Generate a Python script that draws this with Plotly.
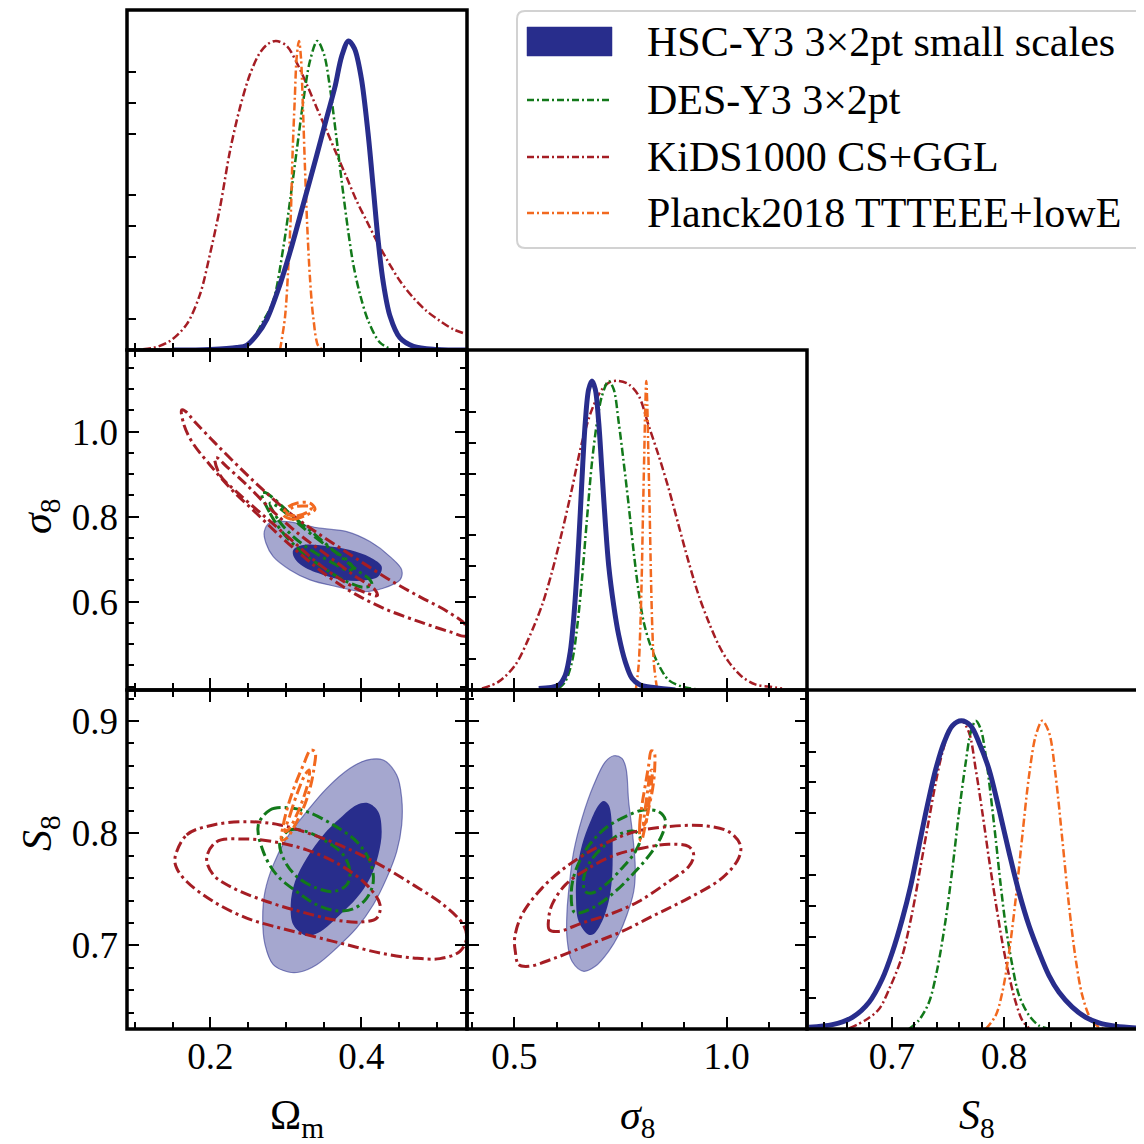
import plotly.graph_objects as go

# ---------------- 1D marginal posteriors (value, normalised density) ----------------
HSC_OM_1D = [(0.15,0.0),(0.20,0.002),(0.235,0.008),(0.248,0.015),(0.262,0.05),(0.275,0.10),(0.292,0.21),(0.306,0.32),(0.323,0.47),(0.341,0.63),(0.354,0.75),(0.365,0.85),(0.374,0.95),(0.383,1.0),(0.391,0.975),(0.400,0.88),(0.409,0.70),(0.416,0.52),(0.4225,0.35),(0.429,0.22),(0.438,0.11),(0.451,0.04),(0.469,0.012),(0.50,0.002),(0.54,0.0)]
DES_OM_1D = [(0.23,0.0),(0.248,0.01),(0.2702,0.094),(0.2834,0.159),(0.2967,0.331),(0.3056,0.482),(0.3144,0.644),(0.3232,0.806),(0.332,0.935),(0.3417,1.0),(0.3506,0.957),(0.3585,0.849),(0.3665,0.698),(0.374,0.547),(0.382,0.396),(0.3894,0.277),(0.3983,0.18),(0.4093,0.094),(0.4248,0.024),(0.4424,0.0)]
KIDS_OM_1D = [(0.0897,0.0),(0.1245,0.007),(0.1466,0.029),(0.1687,0.083),(0.1864,0.18),(0.1996,0.31),(0.2128,0.46),(0.2261,0.644),(0.2393,0.784),(0.2526,0.892),(0.2658,0.962),(0.2768,0.991),(0.287,1.0),(0.3012,0.984),(0.3144,0.93),(0.3277,0.86),(0.3409,0.784),(0.3542,0.709),(0.3674,0.633),(0.3807,0.558),(0.3939,0.482),(0.4072,0.417),(0.4204,0.353),(0.4336,0.294),(0.4513,0.223),(0.4689,0.169),(0.4866,0.126),(0.5042,0.094),(0.5219,0.067),(0.5396,0.051)]
PLANCK_OM_1D = [(0.2923,0.0),(0.2989,0.105),(0.3033,0.266),(0.3065,0.428),(0.3091,0.644),(0.3118,0.806),(0.3144,0.946),(0.3175,1.0),(0.3201,0.946),(0.3224,0.806),(0.3254,0.59),(0.3285,0.396),(0.332,0.234),(0.3364,0.105),(0.343,0.013),(0.3497,0.0)]

HSC_SIG8_1D = [(0.5574,0.005),(0.6045,0.016),(0.62,0.048),(0.6318,0.124),(0.6398,0.231),(0.6476,0.382),(0.6554,0.575),(0.661,0.726),(0.6671,0.866),(0.6751,0.973),(0.6829,1.0),(0.6907,0.973),(0.6987,0.866),(0.7065,0.704),(0.7142,0.543),(0.7222,0.403),(0.734,0.274),(0.7458,0.177),(0.7613,0.091),(0.7771,0.038),(0.7966,0.016),(0.8319,0.0075),(0.879,0.0)]
DES_SIG8_1D = [(0.6045,0.005),(0.62,0.027),(0.6358,0.091),(0.6476,0.199),(0.6594,0.36),(0.6711,0.554),(0.6829,0.737),(0.6947,0.866),(0.7065,0.952),(0.7222,1.0),(0.734,0.973),(0.7458,0.866),(0.7575,0.737),(0.7693,0.597),(0.7811,0.446),(0.7928,0.317),(0.8046,0.22),(0.8202,0.145),(0.8399,0.081),(0.8635,0.032),(0.8948,0.011),(0.9261,0.003)]
KIDS_SIG8_1D = [(0.424,0.005),(0.4633,0.027),(0.5024,0.081),(0.5339,0.167),(0.5652,0.274),(0.5887,0.382),(0.6123,0.511),(0.6358,0.651),(0.6594,0.801),(0.6829,0.908),(0.7065,0.973),(0.726,0.997),(0.7458,1.0),(0.7693,0.989),(0.7928,0.952),(0.8164,0.855),(0.8399,0.758),(0.8635,0.651),(0.887,0.532),(0.9105,0.414),(0.9341,0.306),(0.9576,0.22),(0.9812,0.145),(1.0047,0.091),(1.036,0.043),(1.0673,0.018),(1.0989,0.011),(1.1302,0.005)]
PLANCK_SIG8_1D = [(0.7865,0.005),(0.7928,0.081),(0.7966,0.199),(0.7999,0.36),(0.803,0.575),(0.806,0.768),(0.8084,0.919),(0.8107,1.0),(0.8131,0.919),(0.8155,0.768),(0.8187,0.575),(0.8218,0.36),(0.8249,0.199),(0.8289,0.081),(0.8359,0.005)]

HSC_S8_1D = [(0.6264,0.006),(0.6471,0.014),(0.6649,0.038),(0.6798,0.087),(0.6916,0.163),(0.7005,0.249),(0.7094,0.357),(0.7169,0.465),(0.7243,0.595),(0.7317,0.725),(0.7392,0.843),(0.7466,0.93),(0.754,0.984),(0.762,1.0),(0.7703,0.984),(0.7777,0.93),(0.7866,0.843),(0.7955,0.714),(0.8045,0.573),(0.8134,0.443),(0.8223,0.335),(0.8312,0.249),(0.8401,0.173),(0.849,0.119),(0.8608,0.071),(0.8727,0.038),(0.8846,0.02),(0.8995,0.009),(0.9232,0.002)]
DES_S8_1D = [(0.7154,0.0),(0.7243,0.029),(0.7332,0.087),(0.7406,0.195),(0.7481,0.357),(0.754,0.519),(0.7599,0.703),(0.7659,0.865),(0.7703,0.962),(0.7748,1.0),(0.7793,0.973),(0.7837,0.887),(0.7882,0.757),(0.7926,0.616),(0.7971,0.465),(0.8015,0.335),(0.8074,0.206),(0.8134,0.109),(0.8223,0.044),(0.8312,0.011),(0.8401,0.0)]
KIDS_S8_1D = [(0.662,0.002),(0.6768,0.029),(0.6887,0.065),(0.6991,0.141),(0.7094,0.238),(0.7183,0.379),(0.7258,0.53),(0.7332,0.681),(0.7392,0.8),(0.7451,0.897),(0.7525,0.973),(0.762,1.0),(0.7688,0.962),(0.7748,0.843),(0.7807,0.703),(0.7866,0.552),(0.7926,0.411),(0.7985,0.281),(0.8045,0.173),(0.8104,0.087),(0.8163,0.028),(0.8223,0.002)]
PLANCK_S8_1D = [(0.7837,0.0),(0.7926,0.044),(0.7985,0.119),(0.8045,0.249),(0.8104,0.422),(0.8163,0.627),(0.8223,0.822),(0.8282,0.951),(0.8341,1.0),(0.8401,0.962),(0.846,0.822),(0.8519,0.616),(0.8579,0.4),(0.8638,0.228),(0.8697,0.109),(0.8772,0.033),(0.8846,0.006),(0.8905,0.0)]

# ---------------- 2D contour outlines (68% = 1SIG, 95% = 2SIG) ----------------
# (Omega_m, sigma_8)
HSC_OM_SIG8_2SIG = [(0.2715,0.7647),(0.2791,0.7859),(0.3012,0.7882),(0.3453,0.7727),(0.3807,0.7647),(0.4115,0.7412),(0.438,0.7059),(0.4535,0.6746),(0.4513,0.6511),(0.4291,0.6315),(0.4026,0.6235),(0.3674,0.6353),(0.3321,0.6511),(0.3056,0.6746),(0.2834,0.7059),(0.2738,0.7374)]
HSC_OM_SIG8_1SIG = [(0.3099,0.7216),(0.3232,0.7334),(0.3542,0.7311),(0.3851,0.7216),(0.4115,0.7045),(0.427,0.6824),(0.4225,0.6588),(0.4026,0.6494),(0.3762,0.6511),(0.3497,0.6628),(0.3232,0.6824),(0.3109,0.7045)]
DES_OM_SIG8_2SIG = [(0.2681,0.8551),(0.2791,0.808),(0.2967,0.7609),(0.3232,0.7139),(0.3542,0.6746),(0.3807,0.6471),(0.4026,0.6339),(0.4138,0.6393),(0.4115,0.6511),(0.3939,0.6746),(0.3674,0.7139),(0.3364,0.7609),(0.3099,0.8),(0.2834,0.8433),(0.2725,0.8565)]
DES_OM_SIG8_1SIG = [(0.2791,0.8315),(0.2901,0.7922),(0.3099,0.7529),(0.3364,0.7176),(0.3629,0.6904),(0.3828,0.6729),(0.3886,0.6786),(0.3807,0.6981),(0.3585,0.7256),(0.3321,0.7609),(0.3056,0.8),(0.2857,0.8275)]
KIDS_OM_SIG8_2SIG = [(0.1621,1.0511),(0.1652,1.0158),(0.1758,0.9758),(0.1996,0.9216),(0.2287,0.8628),(0.2592,0.8111),(0.2923,0.7546),(0.3254,0.7028),(0.3585,0.6558),(0.3916,0.6181),(0.4314,0.5828),(0.4777,0.5522),(0.5175,0.5287),(0.5387,0.5193),(0.5387,0.5428),(0.5149,0.5758),(0.4777,0.6111),(0.442,0.6464),(0.4062,0.6864),(0.3718,0.7264),(0.336,0.7687),(0.3016,0.8134),(0.2685,0.8652),(0.2393,0.9146),(0.2062,0.9734),(0.1797,1.0228),(0.1665,1.0487)]
KIDS_OM_SIG8_1SIG = [(0.2062,0.9374),(0.2128,0.8981),(0.2393,0.8511),(0.2747,0.7962),(0.3099,0.7412),(0.3453,0.6864),(0.3807,0.6433),(0.4072,0.6198),(0.4212,0.6141),(0.4182,0.6275),(0.3894,0.6628),(0.3542,0.7099),(0.3188,0.7569),(0.2834,0.8118),(0.2482,0.8746),(0.2217,0.9176),(0.2085,0.9388)]
PLANCK_OM_SIG8_2SIG = [(0.2967,0.804),(0.3099,0.7939),(0.3277,0.804),(0.3387,0.8174),(0.3321,0.8315),(0.3144,0.8315),(0.3012,0.8198)]
PLANCK_OM_SIG8_1SIG = [(0.3012,0.808),(0.3144,0.8016),(0.3298,0.8118),(0.3343,0.8221),(0.3232,0.8252),(0.3099,0.8221)]

# (Omega_m, S_8)
HSC_OM_S8_2SIG = [(0.3033,0.6764),(0.2834,0.6829),(0.2725,0.7007),(0.2694,0.7244),(0.2725,0.7481),(0.2834,0.7718),(0.3012,0.7956),(0.3277,0.8192),(0.3542,0.84),(0.385,0.8578),(0.4072,0.8652),(0.4291,0.8652),(0.4469,0.8518),(0.4535,0.8311),(0.4535,0.8074),(0.4469,0.7836),(0.4336,0.76),(0.4159,0.7363),(0.3939,0.7156),(0.3674,0.6978),(0.3409,0.6829),(0.3188,0.6764)]
HSC_OM_S8_1SIG = [(0.3254,0.709),(0.3099,0.7185),(0.3065,0.7363),(0.3122,0.757),(0.3277,0.7778),(0.3497,0.7985),(0.3718,0.8133),(0.3939,0.8252),(0.4093,0.8267),(0.4225,0.8192),(0.427,0.8014),(0.4225,0.7807),(0.4115,0.76),(0.3939,0.7422),(0.3718,0.7274),(0.3497,0.7141),(0.3343,0.709)]
DES_OM_S8_2SIG = [(0.2636,0.8074),(0.2791,0.8207),(0.3012,0.8228),(0.3277,0.8192),(0.3629,0.8074),(0.3939,0.7925),(0.4115,0.7748),(0.4159,0.757),(0.4072,0.7422),(0.3894,0.7327),(0.3674,0.7309),(0.3409,0.7363),(0.3144,0.7481),(0.2879,0.7629),(0.2702,0.7836)]
DES_OM_S8_1SIG = [(0.2923,0.7925),(0.3056,0.8029),(0.3277,0.8014),(0.3542,0.7925),(0.3762,0.7807),(0.385,0.7659),(0.3807,0.754),(0.3629,0.7481),(0.3409,0.7511),(0.3144,0.7614),(0.2967,0.7778)]
KIDS_OM_S8_2SIG = [(0.1532,0.7778),(0.1687,0.7985),(0.204,0.8074),(0.2482,0.8103),(0.2923,0.8074),(0.3364,0.7985),(0.3807,0.7867),(0.4248,0.7718),(0.4689,0.754),(0.5086,0.7363),(0.5351,0.7185),(0.5396,0.7067),(0.5307,0.6948),(0.5042,0.6883),(0.4689,0.6889),(0.4248,0.6933),(0.3807,0.7007),(0.3364,0.7081),(0.2923,0.7156),(0.2482,0.7244),(0.204,0.7392),(0.1687,0.757),(0.1555,0.7689)]
KIDS_OM_S8_1SIG = [(0.1952,0.7778),(0.2085,0.7925),(0.2437,0.7949),(0.2834,0.7925),(0.3277,0.7852),(0.3718,0.7718),(0.4072,0.754),(0.4248,0.7363),(0.4204,0.7244),(0.3983,0.7209),(0.3629,0.723),(0.3188,0.7303),(0.2747,0.7392),(0.2305,0.7511),(0.204,0.763)]
PLANCK_OM_S8_2SIG = [(0.2946,0.794),(0.2967,0.8074),(0.3033,0.8252),(0.3122,0.8429),(0.3232,0.8607),(0.333,0.874),(0.3387,0.8725),(0.3373,0.8578),(0.3321,0.84),(0.3232,0.8222),(0.3122,0.8074),(0.3012,0.7956)]
PLANCK_OM_S8_1SIG = [(0.2989,0.8014),(0.3056,0.8163),(0.3144,0.8341),(0.3254,0.8519),(0.3311,0.8563),(0.3298,0.8459),(0.3232,0.8311),(0.3144,0.8163),(0.3033,0.803)]

# (sigma_8, S_8)
HSC_SIG8_S8_2SIG = [(0.6634,0.677),(0.6358,0.6859),(0.6241,0.7067),(0.6241,0.7303),(0.6295,0.754),(0.6398,0.7836),(0.6594,0.8133),(0.6869,0.8429),(0.7142,0.8636),(0.734,0.869),(0.7535,0.8667),(0.763,0.8578),(0.7693,0.8281),(0.7787,0.7985),(0.7848,0.7689),(0.7811,0.7481),(0.7653,0.7274),(0.7458,0.7096),(0.7222,0.6948),(0.6907,0.6814)]
HSC_SIG8_S8_1SIG = [(0.6751,0.7096),(0.6516,0.7214),(0.6452,0.7422),(0.6476,0.7659),(0.6594,0.7896),(0.6789,0.8103),(0.6987,0.8252),(0.7105,0.8287),(0.7222,0.8252),(0.73,0.8074),(0.7316,0.7836),(0.73,0.76),(0.7222,0.7392),(0.7065,0.7214),(0.6869,0.7102)]
DES_SIG8_S8_2SIG = [(0.6398,0.7303),(0.6342,0.7481),(0.6436,0.7659),(0.6711,0.7867),(0.7142,0.8044),(0.7613,0.8148),(0.8046,0.8207),(0.8399,0.8192),(0.8555,0.8118),(0.8477,0.7985),(0.8242,0.7836),(0.7848,0.7659),(0.7378,0.7481),(0.6907,0.7348),(0.6516,0.7289)]
DES_SIG8_S8_1SIG = [(0.6671,0.7481),(0.6634,0.76),(0.6789,0.7748),(0.7142,0.7896),(0.7535,0.8),(0.7848,0.8014),(0.7966,0.7956),(0.7848,0.7836),(0.7535,0.7689),(0.7142,0.754),(0.6829,0.7467)]
KIDS_SIG8_S8_2SIG = [(0.5024,0.6948),(0.5104,0.6829),(0.5339,0.6814),(0.5965,0.6889),(0.6751,0.7007),(0.7535,0.7125),(0.8319,0.7274),(0.9105,0.7422),(0.9889,0.76),(1.0282,0.7778),(1.032,0.7896),(1.0047,0.8014),(0.9419,0.8068),(0.8635,0.8059),(0.7848,0.8014),(0.7065,0.7896),(0.6281,0.7718),(0.5652,0.7511),(0.5181,0.7274),(0.5009,0.7067)]
KIDS_SIG8_S8_1SIG = [(0.581,0.7244),(0.5824,0.714),(0.6045,0.7125),(0.6594,0.72),(0.7222,0.7274),(0.7928,0.7392),(0.8635,0.757),(0.9105,0.7703),(0.9223,0.7807),(0.9105,0.7881),(0.8635,0.7902),(0.8006,0.7867),(0.7378,0.7807),(0.6751,0.7689),(0.6201,0.754),(0.5887,0.7363)]
PLANCK_SIG8_S8_2SIG = [(0.7966,0.794),(0.7952,0.8074),(0.8006,0.8252),(0.8084,0.8429),(0.8164,0.8607),(0.8225,0.8734),(0.8289,0.8725),(0.8305,0.8578),(0.8258,0.84),(0.8164,0.8222),(0.807,0.8044),(0.799,0.7932)]
PLANCK_SIG8_S8_1SIG = [(0.8046,0.8074),(0.8084,0.8222),(0.8147,0.84),(0.8202,0.8548),(0.8242,0.8563),(0.8225,0.8429),(0.8164,0.8252),(0.81,0.8103)]

# ---------------- axes / labels ----------------
OM_RANGE = [0.0897, 0.540]
SIG8_X_RANGE = [0.3887, 1.189]
SIG8_Y_RANGE = [0.392, 1.192]
S8_X_RANGE = [0.6245, 0.9247]
S8_Y_RANGE = [0.6256, 0.9276]
DENS_RANGE = [0, 1.1]
OM_TICKS = [0.2, 0.4]
SIG8_X_TICKS = [0.5, 1.0]
SIG8_Y_TICKS = [0.6, 0.8, 1.0]
S8_TICKS = [0.7, 0.8, 0.9]
S8_X_TICKS = [0.7, 0.8]
DENS_TICKS = [0.1, 0.3, 0.4, 0.5, 0.7, 0.8, 0.9]
LEGEND_LABELS = ["HSC-Y3 3×2pt small scales", "DES-Y3 3×2pt", "KiDS1000 CS+GGL", "Planck2018 TTTEEE+lowE"]

# ---------------- styles ----------------
BLUE = "#282d8c"
BLUE_LIGHT = "rgba(40,45,140,0.42)"
GREEN = "#12791a"
RED = "#a51d24"
ORANGE = "#f2691f"
FONT = "Liberation Serif"
DASH1D = "8px,3px,2px,3px"
DASH2D = "11px,4px,3px,4px"
FRAME_W = 3.5

# page body has an 8px margin: the figure is shifted so the panels land where the reference has them
OFF = 8
W = H = 1144 - OFF
ML, MR, MT, MB = 127 - OFF, 0, 10 - OFF, 115
PW = W - ML - MR
PH = H - MT - MB


def px2paper_x(x):   # x in screen pixels
    return (x - OFF - ML) / PW


def px2paper_y(y):   # y in screen pixels
    return (H - MB - (y - OFF)) / PH


COLS = [(127, 467), (467, 807), (807, 1144)]
ROWS = [(10, 350), (350, 690), (690, 1029)]


def xdom(c):
    return [px2paper_x(COLS[c][0]), px2paper_x(COLS[c][1])]


def ydom(r):
    return [px2paper_y(ROWS[r][1]), px2paper_y(ROWS[r][0])]


fig = go.Figure()


def xs(p):
    return [a for a, _ in p]


def ys(p):
    return [b for _, b in p]


def closed(p):
    return list(p) + [p[0]]


def line1d(pts, color, ax, solid=False):
    fig.add_trace(go.Scatter(
        x=xs(pts), y=ys(pts), mode="lines", xaxis=ax[0], yaxis=ax[1],
        line=dict(color=color, width=5 if solid else 2.5, dash="solid" if solid else DASH1D,
                  shape="spline", smoothing=0.9),
        hoverinfo="skip", showlegend=False))


def fill2d(pts, fillcolor, ax, edge=None):
    p = closed(pts)
    fig.add_trace(go.Scatter(
        x=xs(p), y=ys(p), mode="lines", fill="toself", fillcolor=fillcolor,
        xaxis=ax[0], yaxis=ax[1],
        line=dict(color=edge if edge else "rgba(0,0,0,0)", width=1.2 if edge else 0,
                  shape="spline", smoothing=1.0),
        hoverinfo="skip", showlegend=False))


def line2d(pts, color, ax):
    p = closed(pts)
    fig.add_trace(go.Scatter(
        x=xs(p), y=ys(p), mode="lines", xaxis=ax[0], yaxis=ax[1],
        line=dict(color=color, width=3, dash=DASH2D, shape="spline", smoothing=1.0),
        hoverinfo="skip", showlegend=False))


A = ("x", "y")      # Omega_m 1D
B = ("x2", "y2")    # Omega_m - sigma8
C = ("x3", "y3")    # sigma8 1D
D = ("x4", "y4")    # Omega_m - S8
E = ("x5", "y5")    # sigma8 - S8
F = ("x6", "y6")    # S8 1D

# diagonal
for pts, col in [(KIDS_OM_1D, RED), (DES_OM_1D, GREEN), (PLANCK_OM_1D, ORANGE)]:
    line1d(pts, col, A)
line1d(HSC_OM_1D, BLUE, A, solid=True)
for pts, col in [(KIDS_SIG8_1D, RED), (DES_SIG8_1D, GREEN), (PLANCK_SIG8_1D, ORANGE)]:
    line1d(pts, col, C)
line1d(HSC_SIG8_1D, BLUE, C, solid=True)
for pts, col in [(KIDS_S8_1D, RED), (DES_S8_1D, GREEN), (PLANCK_S8_1D, ORANGE)]:
    line1d(pts, col, F)
line1d(HSC_S8_1D, BLUE, F, solid=True)

# 2D panels
panels = [
    (B, HSC_OM_SIG8_2SIG, HSC_OM_SIG8_1SIG,
     [(DES_OM_SIG8_2SIG, GREEN), (DES_OM_SIG8_1SIG, GREEN), (KIDS_OM_SIG8_2SIG, RED), (KIDS_OM_SIG8_1SIG, RED),
      (PLANCK_OM_SIG8_2SIG, ORANGE), (PLANCK_OM_SIG8_1SIG, ORANGE)]),
    (D, HSC_OM_S8_2SIG, HSC_OM_S8_1SIG,
     [(DES_OM_S8_2SIG, GREEN), (DES_OM_S8_1SIG, GREEN), (KIDS_OM_S8_2SIG, RED), (KIDS_OM_S8_1SIG, RED),
      (PLANCK_OM_S8_2SIG, ORANGE), (PLANCK_OM_S8_1SIG, ORANGE)]),
    (E, HSC_SIG8_S8_2SIG, HSC_SIG8_S8_1SIG,
     [(DES_SIG8_S8_2SIG, GREEN), (DES_SIG8_S8_1SIG, GREEN), (KIDS_SIG8_S8_2SIG, RED), (KIDS_SIG8_S8_1SIG, RED),
      (PLANCK_SIG8_S8_2SIG, ORANGE), (PLANCK_SIG8_S8_1SIG, ORANGE)]),
]
for ax, outer, inner, others in panels:
    fill2d(outer, BLUE_LIGHT, ax, edge="rgba(40,45,140,0.55)")
    fill2d(inner, BLUE, ax)
    for pts, col in others:
        line2d(pts, col, ax)

# ---------------- axes ----------------
TICKFONT = dict(family=FONT, size=37, color="black")


def axis(domain, rng, anchor, tickvals, minor_dtick, labels, mirror, ticklen=12, fmt=".1f", standoff=0):
    d = dict(domain=domain, range=rng, anchor=anchor, showline=False,
             mirror=mirror, ticks="inside", tickcolor="black", tickwidth=2, ticklen=ticklen,
             tickmode="array", tickvals=tickvals, showticklabels=labels, tickformat=fmt,
             tickfont=TICKFONT, showgrid=False, zeroline=False, fixedrange=True, automargin=False)
    if standoff:
        d["ticklabelstandoff"] = standoff
    if minor_dtick:
        d["minor"] = dict(tickmode="linear", tick0=0, dtick=minor_dtick, ticks="inside", ticklen=7,
                          tickwidth=1.5, tickcolor="black", showgrid=False)
    return d


fig.update_layout(
    xaxis=axis(xdom(0), OM_RANGE, "y", OM_TICKS, 0.05, False, False),
    yaxis=axis(ydom(0), DENS_RANGE, "x", DENS_TICKS, None, False, False, ticklen=9),
    xaxis2=axis(xdom(0), OM_RANGE, "y2", OM_TICKS, 0.05, False, "allticks"),
    yaxis2=axis(ydom(1), SIG8_Y_RANGE, "x2", SIG8_Y_TICKS, 0.05, True, "allticks", standoff=8),
    xaxis3=axis(xdom(1), SIG8_X_RANGE, "y3", SIG8_X_TICKS, 0.1, False, False),
    yaxis3=axis(ydom(1), DENS_RANGE, "x3", DENS_TICKS, None, False, False, ticklen=9),
    xaxis4=axis(xdom(0), OM_RANGE, "y4", OM_TICKS, 0.05, True, "allticks", standoff=2),
    yaxis4=axis(ydom(2), S8_Y_RANGE, "x4", S8_TICKS, 0.02, True, "allticks", standoff=8),
    xaxis5=axis(xdom(1), SIG8_X_RANGE, "y5", SIG8_X_TICKS, 0.1, True, "allticks", standoff=2),
    yaxis5=axis(ydom(2), S8_Y_RANGE, "x5", S8_TICKS, 0.02, False, "allticks"),
    xaxis6=axis(xdom(2), S8_X_RANGE, "y6", S8_X_TICKS, 0.02, True, False, standoff=2),
    yaxis6=axis(ydom(2), DENS_RANGE, "x6", DENS_TICKS, None, False, False, ticklen=9),
)

# panel frames (centred on the panel edges, so shared edges overlap like matplotlib spines)
for (r, c) in [(0, 0), (1, 0), (1, 1), (2, 0), (2, 1), (2, 2)]:
    xd, yd = xdom(c), ydom(r)
    x1 = xd[1] if c < 2 else px2paper_x(1150)
    fig.add_shape(type="rect", xref="paper", yref="paper", x0=xd[0], x1=x1, y0=yd[0], y1=yd[1],
                  line=dict(color="black", width=FRAME_W), fillcolor="rgba(0,0,0,0)", layer="above")

# ---------------- axis titles ----------------
TITLEFONT = dict(family=FONT, size=42, color="black")
annots = [
    dict(text="Ω<sub>m</sub>", x=px2paper_x(297), y=px2paper_y(1118), textangle=0),
    dict(text="<i>σ</i><sub>8</sub>", x=px2paper_x(637), y=px2paper_y(1118), textangle=0),
    dict(text="<i>S</i><sub>8</sub>", x=px2paper_x(977), y=px2paper_y(1118), textangle=0),
    dict(text="<i>σ</i><sub>8</sub>", x=px2paper_x(40), y=px2paper_y(517), textangle=-90),
    dict(text="<i>S</i><sub>8</sub>", x=px2paper_x(40), y=px2paper_y(833), textangle=-90),
]
for a in annots:
    fig.add_annotation(xref="paper", yref="paper", xanchor="center", yanchor="middle",
                       showarrow=False, font=TITLEFONT, **a)

# ---------------- legend (drawn by hand) ----------------
lx0, ly0, lx1, ly1, r = 517, 11, 1156, 248, 8
X = px2paper_x
Y = px2paper_y
path = (f"M {X(lx0 + r)},{Y(ly0)} L {X(lx1 - r)},{Y(ly0)} Q {X(lx1)},{Y(ly0)} {X(lx1)},{Y(ly0 + r)} "
        f"L {X(lx1)},{Y(ly1 - r)} Q {X(lx1)},{Y(ly1)} {X(lx1 - r)},{Y(ly1)} "
        f"L {X(lx0 + r)},{Y(ly1)} Q {X(lx0)},{Y(ly1)} {X(lx0)},{Y(ly1 - r)} "
        f"L {X(lx0)},{Y(ly0 + r)} Q {X(lx0)},{Y(ly0)} {X(lx0 + r)},{Y(ly0)} Z")
fig.add_shape(type="path", path=path, xref="paper", yref="paper",
              line=dict(color="#d2d2d2", width=2), fillcolor="rgba(255,255,255,0.85)", layer="above")
rows_y = [42, 100, 157, 213]
fig.add_shape(type="rect", xref="paper", yref="paper", x0=X(527), x1=X(612), y0=Y(27), y1=Y(56),
              fillcolor=BLUE, line=dict(color="rgba(40,45,140,0.5)", width=1), layer="above")
for yy, col in zip(rows_y[1:], [GREEN, RED, ORANGE]):
    fig.add_shape(type="line", xref="paper", yref="paper", x0=X(527), x1=X(612), y0=Y(yy), y1=Y(yy),
                  line=dict(color=col, width=2.5, dash="7px,3px,2px,3px"), layer="above")
for yy, lab in zip(rows_y, LEGEND_LABELS):
    fig.add_annotation(xref="paper", yref="paper", x=X(645), y=Y(yy), text=lab, showarrow=False,
                       xanchor="left", yanchor="middle", font=dict(family=FONT, size=42, color="black"))

fig.update_layout(width=W, height=H, margin=dict(l=ML, r=MR, t=MT, b=MB, autoexpand=False),
                  paper_bgcolor="white", plot_bgcolor="white", showlegend=False, hovermode=False)

fig.write_html("out.html")
